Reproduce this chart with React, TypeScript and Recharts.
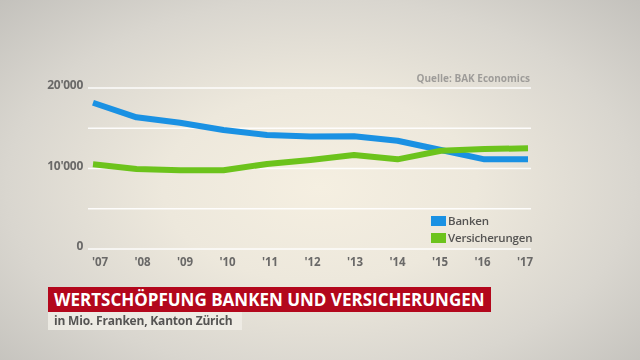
import React from "react";
import { LineChart, Line, XAxis, YAxis, CartesianGrid, Legend } from "recharts";

const years = ["'07", "'08", "'09", "'10", "'11", "'12", "'13", "'14", "'15", "'16", "'17"];
const banken = [18170, 16360, 15690, 14780, 14160, 13980, 14000, 13450, 12300, 11140, 11140];
const versicherungen = [10520, 9940, 9780, 9780, 10560, 11060, 11680, 11140, 12210, 12420, 12510];
const yTicks = [0, 5000, 10000, 15000, 20000];
const yLabels: Record<number, string> = { 0: "0", 10000: "10'000", 20000: "20'000" };

const data = years.map((y, i) => ({ year: y, Banken: banken[i], Versicherungen: versicherungen[i] }));

const FONT = "'Open Sans', 'DejaVu Sans', sans-serif";
const BLUE = "#1a91e3";
const GREEN = "#6cc31c";

const YTick = (props: any) => {
  const { x, y, payload } = props;
  const label = yLabels[payload.value];
  if (!label) return null;
  return (
    <text x={x} y={y - 3} dy="0.35em" textAnchor="end" fill="#6a6968" fontFamily={FONT} fontWeight={700} fontSize={12} letterSpacing={-0.3}>
      {label}
    </text>
  );
};

const XTick = (props: any) => {
  const { x, y, payload, index } = props;
  const shift = 2 + (5 - (index ?? 0)) * 1;
  return (
    <text x={x + shift} y={y} dy="0.35em" textAnchor="middle" fill="#6a6968" fontFamily={FONT} fontWeight={700} fontSize={11.5}>
      {payload.value}
    </text>
  );
};

const LegendContent = (props: any) => {
  const { payload } = props;
  return (
    <div style={{ fontFamily: FONT }}>
      {payload.map((p: any) => (
        <div key={p.value} style={{ display: "flex", alignItems: "center", height: 17 }}>
          <div style={{ width: 15, height: 10, background: p.color, marginRight: 2 }} />
          <span style={{ fontSize: 11.5, fontWeight: 600, color: "#555453", letterSpacing: -0.2 }}>{p.value}</span>
        </div>
      ))}
    </div>
  );
};

export default function App() {
  return (
    <div
      style={{
        position: "fixed",
        left: 0,
        top: 0,
        width: 640,
        height: 360,
        overflow: "hidden",
        background:
          "radial-gradient(ellipse 70% 75% at 50% 52%, #f5efe1 0%, #ede8dc 35%, #d9d6cf 70%, #c3c1bc 100%)",
      }}
    >
      <LineChart
        width={640}
        height={360}
        data={data}
        margin={{ top: 88, right: 109, bottom: 81, left: 0 }}
      >
        <CartesianGrid vertical={false} stroke="#ffffff" strokeWidth={1.5} strokeOpacity={0.9} />
        <XAxis
          dataKey="year"
          axisLine={false}
          tickLine={false}
          tickSize={0}
          tickMargin={13}
          padding={{ left: 5, right: 3 }}
          tick={<XTick />}
          interval={0}
        />
        <YAxis
          width={88}
          domain={[0, 20000]}
          ticks={yTicks}
          axisLine={false}
          tickLine={false}
          tickSize={0}
          tickMargin={5}
          tick={<YTick />}
          interval={0}
        />
        <Legend
          layout="vertical"
          verticalAlign="middle"
          align="center"
          wrapperStyle={{ position: "absolute", left: 431, top: 212, width: 110, margin: 0 }}
          content={<LegendContent />}
        />
        <Line dataKey="Banken" stroke={BLUE} strokeWidth={6} dot={false} isAnimationActive={false} strokeLinejoin="round" />
        <Line dataKey="Versicherungen" stroke={GREEN} strokeWidth={6} dot={false} isAnimationActive={false} strokeLinejoin="round" />
      </LineChart>
      <div
        style={{
          position: "absolute",
          right: 110,
          top: 71,
          fontFamily: FONT,
          fontSize: 10,
          fontWeight: 700,
          color: "#9e9c99",
        }}
      >
        Quelle: BAK Economics
      </div>
      <div
        style={{
          position: "absolute",
          left: 48,
          top: 287,
          width: 443,
          height: 25,
          background: "#b3071c",
          boxSizing: "border-box",
          paddingLeft: 6,
          fontFamily: FONT,
          fontSize: 17,
          fontWeight: 700,
          color: "#ffffff",
          lineHeight: "25px",
          whiteSpace: "nowrap",
        }}
      >
        WERTSCHÖPFUNG BANKEN UND VERSICHERUNGEN
      </div>
      <div
        style={{
          position: "absolute",
          left: 48,
          top: 312,
          width: 194,
          height: 18,
          background: "rgba(240,237,230,0.85)",
          boxSizing: "border-box",
          paddingLeft: 6,
          fontFamily: FONT,
          fontSize: 12,
          fontWeight: 700,
          color: "#555453",
          lineHeight: "18px",
          letterSpacing: -0.2,
          whiteSpace: "nowrap",
        }}
      >
        in Mio. Franken, Kanton Zürich
      </div>
    </div>
  );
}
